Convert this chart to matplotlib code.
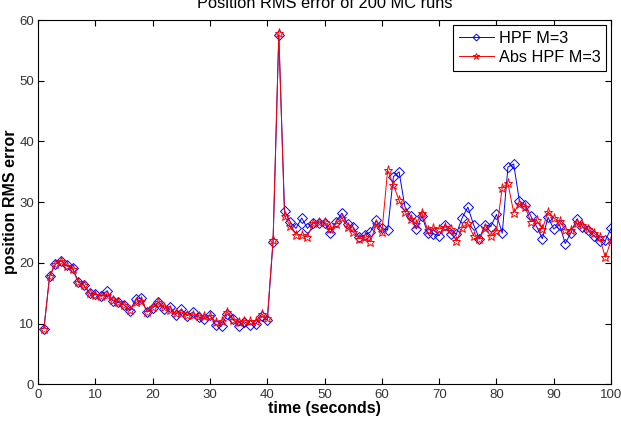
import numpy as np
import matplotlib
matplotlib.use("Agg")
import matplotlib.pyplot as plt

plt.rcParams['font.family'] = ['Liberation Sans', 'DejaVu Sans']

# time steps (seconds)
t = np.arange(1, 101)

# position RMS error, HPF M=3
hpf = [9.2, 17.9, 19.8, 20.4, 19.6, 19.2, 16.9, 16.3, 15.0, 14.9,
       14.6, 15.4, 13.8, 13.5, 13.1, 12.1, 14.0, 14.2, 11.9, 12.6,
       13.5, 12.5, 12.8, 11.5, 12.4, 11.3, 11.9, 11.1, 10.8, 11.4,
       9.8, 9.6, 11.6, 10.8, 9.6, 10.3, 9.8, 10.0, 11.3, 10.6,
       23.5, 57.5, 28.6, 26.7, 25.7, 27.4, 25.7, 26.6, 26.6, 26.6,
       24.9, 26.8, 28.2, 26.4, 25.9, 24.2, 24.6, 25.1, 27.0, 25.7,
       25.4, 34.2, 35.0, 29.3, 27.7, 25.6, 27.7, 24.9, 24.8, 24.5,
       26.3, 24.8, 24.8, 27.4, 29.2, 26.3, 24.0, 26.3, 26.0, 28.0,
       24.9, 35.8, 36.3, 30.2, 29.5, 27.7, 26.0, 24.0, 27.5, 25.6,
       26.3, 23.2, 25.0, 27.2, 26.0, 25.4, 24.5, 23.6, 23.7, 25.7]

# position RMS error, Abs HPF M=3
abs_hpf = [9.2, 17.8, 19.8, 20.3, 19.5, 19.0, 16.8, 16.3, 15.0, 14.8,
           14.5, 14.8, 13.9, 13.6, 13.1, 12.3, 13.5, 13.8, 12.0, 12.8,
           13.6, 12.8, 12.3, 11.8, 11.8, 11.5, 11.4, 11.3, 11.2, 11.3,
           10.3, 10.4, 12.0, 10.6, 10.2, 10.5, 10.5, 10.4, 11.6, 10.9,
           23.8, 57.8, 27.7, 26.1, 24.6, 24.6, 24.3, 26.6, 26.8, 26.8,
           25.6, 26.4, 27.4, 26.0, 25.1, 24.0, 24.2, 23.5, 26.4, 25.1,
           35.3, 32.8, 30.3, 28.4, 27.2, 26.4, 28.3, 25.4, 25.7, 25.6,
           25.9, 25.6, 23.6, 25.8, 26.5, 24.5, 24.0, 25.7, 24.4, 25.3,
           32.4, 33.1, 28.3, 29.7, 29.2, 26.8, 27.0, 25.6, 28.4, 27.4,
           26.9, 25.4, 25.4, 26.5, 26.3, 25.6, 24.9, 24.2, 20.9, 23.7]

fig = plt.figure(figsize=(6.21, 4.22), dpi=100)
ax = fig.add_axes([0.0615, 0.089, 0.9225, 0.8636])

ax.plot(t, hpf, color='blue', lw=0.7, marker='D', ms=5,
        mfc='none', mec='blue', mew=0.7, label='HPF M=3')
ax.plot(t, abs_hpf, color='red', lw=0.7, marker='*', ms=6.5,
        mfc='none', mec='red', mew=0.7, label='Abs HPF M=3')

ax.set_xlim(0, 100)
ax.set_ylim(0, 60)
ax.set_xticks(np.arange(0, 101, 10))
ax.set_yticks(np.arange(0, 61, 10))
ax.tick_params(direction='in', top=True, right=True, length=4,
               labelsize=9.5, labelcolor='#333333', pad=3)
for s in ax.spines.values():
    s.set_linewidth(0.8)

# title is partly cut off at the top in the source
ax.set_title('Position RMS error of 200 MC runs', fontsize=11.8, pad=9)
ax.set_xlabel('time (seconds)', fontsize=11.5, fontweight='bold', labelpad=0)
ax.set_ylabel('position RMS error', fontsize=11.5, fontweight='bold', labelpad=1)

leg = ax.legend(loc='upper right', fontsize=11.7, handlelength=2.15,
                handletextpad=0.3, markerscale=0.7,
                borderaxespad=0.3, fancybox=False, framealpha=1,
                edgecolor='black', borderpad=0.35, labelspacing=0.27)
leg.get_frame().set_linewidth(0.8)

fig.savefig('out.png', dpi=100)
